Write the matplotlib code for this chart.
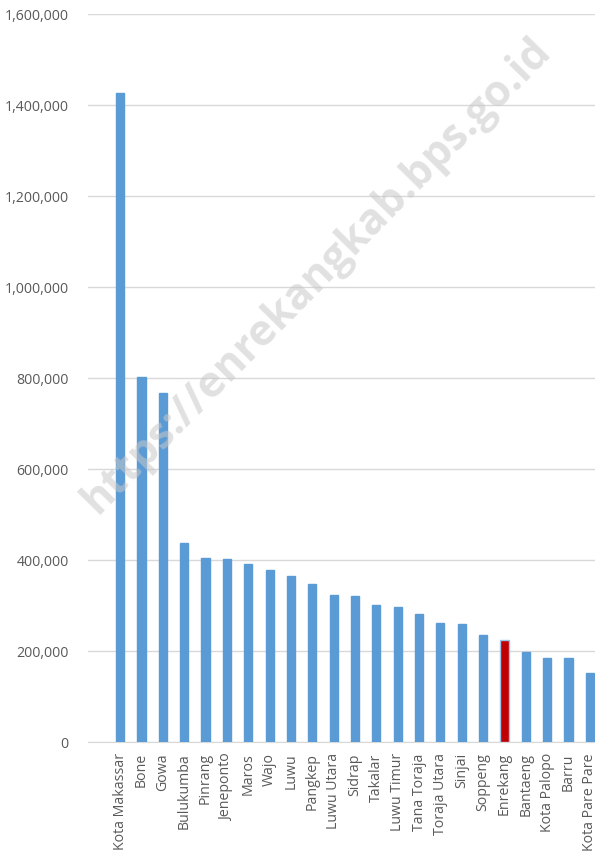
import matplotlib.pyplot as plt
from matplotlib.ticker import FuncFormatter

# Population by regency / city
regions = ['Kota Makassar', 'Bone', 'Gowa', 'Bulukumba', 'Pinrang', 'Jeneponto',
           'Maros', 'Wajo', 'Luwu', 'Pangkep', 'Luwu Utara', 'Sidrap', 'Takalar',
           'Luwu Timur', 'Tana Toraja', 'Toraja Utara', 'Sinjai', 'Soppeng',
           'Enrekang', 'Bantaeng', 'Kota Palopo', 'Barru', 'Kota Pare Pare']
population = [1426000, 802000, 767000, 437000, 404000, 401500, 392000, 379000,
              365500, 346500, 323000, 320000, 301000, 296700, 280600, 261500,
              259300, 235000, 224000, 197000, 184600, 184600, 151600]
highlight = 'Enrekang'

plt.rcParams['font.family'] = ['Open Sans', 'DejaVu Sans']

fig = plt.figure(figsize=(5.95, 8.51), dpi=100)
ax = fig.add_axes([0.148, 0.128, 0.852, 0.8555])

x = list(range(len(regions)))
colors = ['#C00000' if r == highlight else '#5B9BD5' for r in regions]
edges = ['#9DC3E6' if r == highlight else '#5B9BD5' for r in regions]
ax.bar(x, population, width=0.38, color=colors, edgecolor=edges, linewidth=1.0, zorder=3)

ax.set_ylim(0, 1600000)
ax.set_xlim(-1.5, 22.24)
ax.set_yticks(range(0, 1600001, 200000))
ax.yaxis.set_major_formatter(FuncFormatter(lambda v, p: f'{int(v):,}'))
ax.grid(axis='y', color='#D9D9D9', linewidth=1.0, zorder=0)
ax.set_xticks(x)
ax.set_xticklabels(regions, rotation=90, va='top', ha='center')
ax.tick_params(axis='both', length=0, colors='#595959', labelsize=10.2)
ax.tick_params(axis='y', pad=14)
ax.tick_params(axis='x', pad=8)
for s in ['top', 'right', 'left']:
    ax.spines[s].set_visible(False)
ax.spines['bottom'].set_color('#D9D9D9')

# watermark
fig.text(0.532, 0.676, 'https://enrekangkab.bps.go.id', rotation=45.5,
         ha='center', va='center', fontsize=31, fontweight='bold',
         color='#C8C8C8', alpha=0.55, zorder=10)

fig.savefig('out.png', dpi=100)
